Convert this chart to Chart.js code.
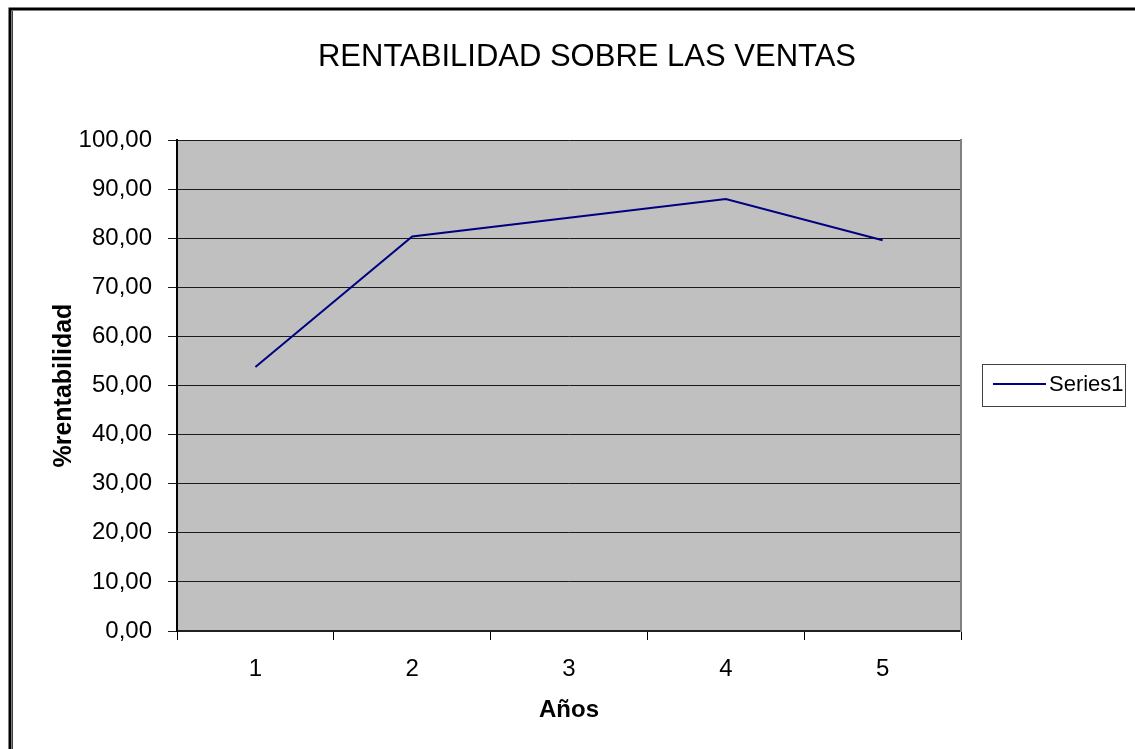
<!DOCTYPE html>
<html>
<head>
<meta charset="utf-8">
<script src="https://cdn.jsdelivr.net/npm/chart.js@4/dist/chart.umd.min.js"></script>
<style>
  body { margin: 0; background: #fff; }
  canvas { display: block; }
</style>
</head>
<body>
<canvas id="chart" width="1135" height="749"></canvas>
<script>
const years = ["1", "2", "3", "4", "5"];
const rentabilidad = [53.8, 80.4, 84.2, 88.0, 79.6];
const seriesName = "Series1";
const chartTitle = "RENTABILIDAD SOBRE LAS VENTAS";
const yTitle = "%rentabilidad";
const xTitle = "Años";

// gray plot area, outer frame and boxed legend like the Excel original
const excelLook = {
  id: "excelLook",
  beforeDraw(chart) {
    const { ctx, chartArea: a } = chart;
    ctx.save();
    ctx.fillStyle = "#fff";
    ctx.fillRect(0, 0, chart.width, chart.height);
    ctx.fillStyle = "#C0C0C0";
    ctx.fillRect(a.left, a.top, a.right - a.left, a.bottom - a.top);
    // frame
    ctx.strokeStyle = "#000";
    ctx.lineWidth = 3;
    ctx.beginPath();
    ctx.moveTo(10, chart.height);
    ctx.lineTo(10, 9);
    ctx.lineTo(chart.width, 9);
    ctx.stroke();
    ctx.lineWidth = 1;
    ctx.strokeStyle = "#404040";
    ctx.beginPath();
    ctx.moveTo(12.5, chart.height);
    ctx.lineTo(12.5, 11);
    ctx.stroke();
    ctx.restore();
  },
  afterDraw(chart) {
    const { ctx } = chart;
    const ds = chart.data.datasets[0];
    ctx.save();
    ctx.fillStyle = "#fff";
    ctx.fillRect(982.5, 364.5, 143, 42);
    ctx.strokeStyle = "#404040";
    ctx.lineWidth = 1;
    ctx.strokeRect(982.5, 364.5, 143, 42);
    ctx.strokeStyle = ds.borderColor;
    ctx.lineWidth = 2;
    ctx.beginPath();
    ctx.moveTo(993, 384);
    ctx.lineTo(1046, 384);
    ctx.stroke();
    ctx.fillStyle = "#000";
    ctx.font = "22px 'Liberation Sans', Arial, sans-serif";
    ctx.textBaseline = "middle";
    ctx.fillText(ds.label, 1049, 385);
    ctx.restore();
  },
};

const ctx = document.getElementById("chart");
new Chart(ctx, {
  type: "line",
  data: {
    labels: years,
    datasets: [
      {
        label: seriesName,
        data: rentabilidad,
        borderColor: "#000080",
        borderWidth: 2,
        pointRadius: 0,
        tension: 0,
        fill: false,
      },
    ],
  },
  options: {
    responsive: false,
    animation: false,
    layout: { padding: { left: 39, right: 0, top: 0, bottom: 0 } },
    plugins: {
      legend: { display: false },
      tooltip: { enabled: false },
      title: {
        display: true,
        text: chartTitle,
        color: "#000",
        font: { family: "'Liberation Sans', Arial, sans-serif", size: 31, weight: "normal" },
        padding: { top: 39, bottom: 64 },
      },
    },
    scales: {
      x: {
        type: "category",
        offset: true,
        grid: { offset: true, drawOnChartArea: false, tickLength: 9, color: "#000" },
        border: { color: "#222", width: 2 },
        ticks: {
          color: "#000",
          padding: 15,
          font: { family: "'Liberation Sans', Arial, sans-serif", size: 24 },
        },
        title: {
          display: true,
          text: xTitle,
          color: "#000",
          font: { family: "'Liberation Sans', Arial, sans-serif", size: 24, weight: "bold" },
          padding: { top: 0, bottom: 24 },
        },
        afterFit: (s) => { s.height = 118; },
      },
      y: {
        position: "left",
        min: 0,
        max: 100,
        grid: { color: "#1a1a1a", lineWidth: 1, tickLength: 9 },
        border: { color: "#000", width: 2 },
        ticks: {
          stepSize: 10,
          color: "#000",
          padding: 16,
          font: { family: "'Liberation Sans', Arial, sans-serif", size: 24 },
          callback: (v) => v.toFixed(2).replace(".", ","),
        },
        title: {
          display: true,
          text: yTitle,
          color: "#000",
          font: { family: "'Liberation Sans', Arial, sans-serif", size: 25, weight: "bold" },
          padding: { top: 10, bottom: 0 },
        },
        afterFit: (s) => { s.width = 138; },
      },
      yr: {
        position: "right",
        grid: { display: false },
        ticks: { display: false },
        border: { display: true, color: "#808080", width: 2 },
        afterFit: (s) => { s.width = 174; },
      },
    },
  },
  plugins: [excelLook],
});
</script>
</body>
</html>
